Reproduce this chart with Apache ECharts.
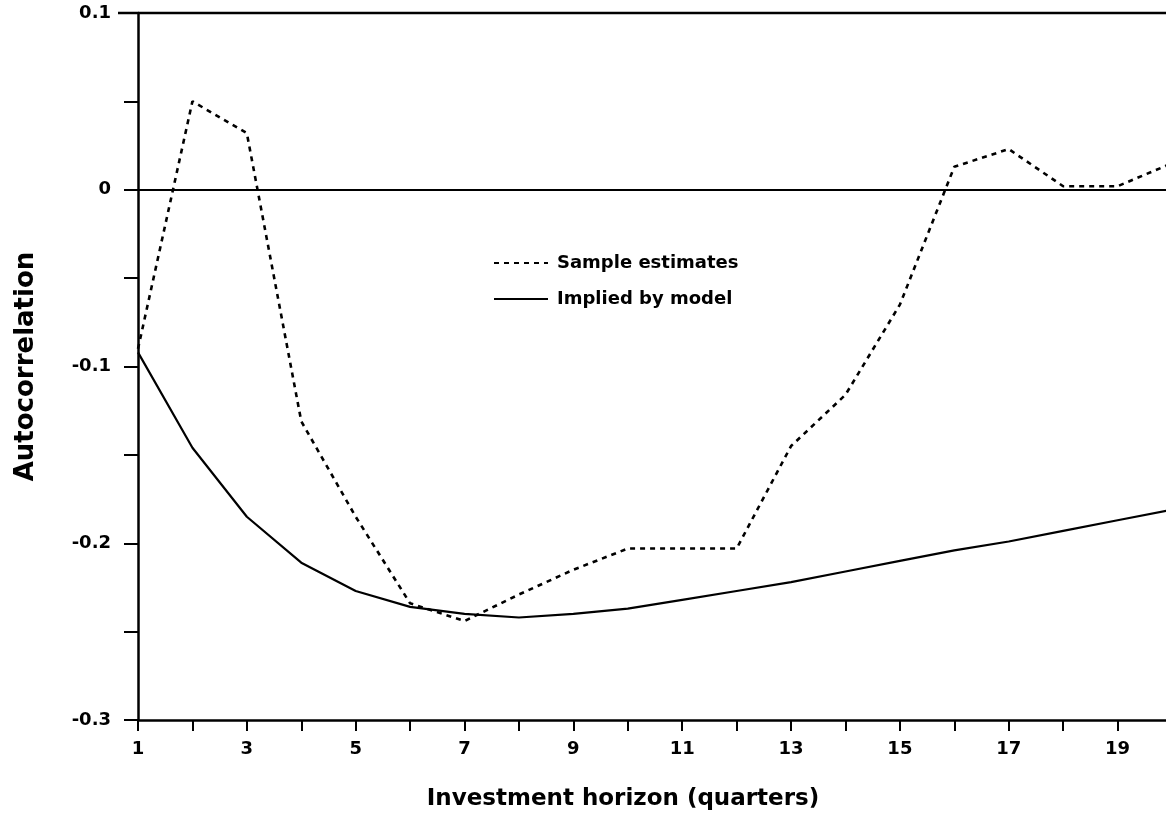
<!DOCTYPE html>
<html>
<head>
<meta charset="utf-8">
<title>Autocorrelation by investment horizon</title>
<script src="https://cdn.jsdelivr.net/npm/echarts@6/dist/echarts.min.js"></script>
<style>
  html, body { margin: 0; padding: 0; background: #ffffff; }
  #chart { width: 1166px; height: 822px; }
</style>
</head>
<body>
<div id="chart"></div>
<script>
// Investment horizon in quarters
const horizons = [1, 2, 3, 4, 5, 6, 7, 8, 9, 10, 11, 12, 13, 14, 15, 16, 17, 18, 19, 20];

// Sample autocorrelation estimates
const sampleEstimates = [-0.090, 0.050, 0.032, -0.131, -0.185, -0.234, -0.244, -0.229, -0.215, -0.203,
                         -0.203, -0.203, -0.145, -0.116, -0.065, 0.013, 0.023, 0.002, 0.002, 0.015];

// Autocorrelations implied by the model
const modelImplied = [-0.092, -0.146, -0.185, -0.211, -0.227, -0.236, -0.240, -0.242, -0.240, -0.237,
                      -0.232, -0.227, -0.222, -0.216, -0.210, -0.204, -0.199, -0.193, -0.187, -0.181];

// Axis tick labels
const xTickLabels = ['1', '3', '5', '7', '9', '11', '13', '15', '17', '19'];
const yTickLabels = ['0.1', '0', '-0.1', '-0.2', '-0.3'];

const seriesNames = ['Sample estimates', 'Implied by model'];

const FONT = 'DejaVu Sans';
const INK = '#000000';

const chart = echarts.init(document.getElementById('chart'), null, { renderer: 'canvas' });

const pairs = (ys) => horizons.map((h, i) => [h, ys[i]]);

chart.setOption({
  backgroundColor: '#ffffff',
  animation: false,
  grid: { left: 138, right: -6, top: 13, bottom: 102, show: false, outerBoundsMode: 'none', containLabel: false },
  legend: {
    orient: 'vertical',
    left: 493,
    top: 254,
    itemWidth: 54,
    itemHeight: 14,
    itemGap: 18,
    padding: 0,
    data: seriesNames,
    itemStyle: { opacity: 0 },
    textStyle: { fontFamily: FONT, fontWeight: 'bold', fontSize: 18, color: INK, padding: [0, 0, 0, 4] }
  },
  xAxis: {
    type: 'value',
    min: 1,
    max: 20,
    interval: 1,
    name: 'Investment horizon (quarters)',
    nameLocation: 'middle',
    nameGap: 68,
    nameTextStyle: { fontFamily: FONT, fontWeight: 'bold', fontSize: 23, color: INK, padding: [0, 64, 0, 0] },
    axisLine: { show: true, onZero: false, lineStyle: { color: INK, width: 2.5 } },
    axisTick: { show: true, inside: false, length: 11, lineStyle: { color: INK, width: 2 } },
    splitLine: { show: false },
    axisLabel: {
      margin: 20,
      fontFamily: FONT, fontWeight: 'bold', fontSize: 18, color: INK,
      formatter: (v) => (xTickLabels.indexOf(String(v)) >= 0 ? String(v) : '')
    }
  },
  yAxis: {
    type: 'value',
    min: -0.3,
    max: 0.1,
    interval: 0.05,
    name: 'Autocorrelation',
    nameLocation: 'middle',
    nameGap: 99,
    nameRotate: 90,
    nameTextStyle: { fontFamily: FONT, fontWeight: 'bold', fontSize: 26, color: INK, padding: [0, 0, 0, 0] },
    axisLine: { show: true, onZero: false, lineStyle: { color: INK, width: 2.5 } },
    axisTick: { show: true, inside: false, length: 14, lineStyle: { color: INK, width: 2 } },
    splitLine: { show: false },
    axisLabel: {
      margin: 27,
      fontFamily: FONT, fontWeight: 'bold', fontSize: 18, color: INK,
      formatter: (v) => {
        const k = Math.round(v * 20);
        if (k % 2 !== 0) return '';
        const s = k === 0 ? '0' : (k / 20).toFixed(1);
        return yTickLabels.indexOf(s) >= 0 ? s : '';
      }
    }
  },
  series: [
    {
      name: seriesNames[0],
      type: 'line',
      data: pairs(sampleEstimates),
      symbol: 'none',
      lineStyle: { color: INK, width: 2.6, type: [5, 5] },
      itemStyle: { color: INK },
      z: 3,
      // reference line at zero
      markLine: {
        silent: true,
        symbol: ['none', 'none'],
        label: { show: false },
        lineStyle: { color: INK, width: 1.8, type: 'solid' },
        data: [{ yAxis: 0 }]
      }
    },
    {
      name: seriesNames[1],
      type: 'line',
      data: pairs(modelImplied),
      symbol: 'none',
      lineStyle: { color: INK, width: 2.2, type: 'solid' },
      itemStyle: { color: INK },
      z: 3
    }
  ],
  graphic: [
    {
      // upper frame line at 0.1, reaching past the axis like a tick
      type: 'line',
      silent: true,
      shape: { x1: 118, y1: 13, x2: 1166, y2: 13 },
      style: { stroke: INK, lineWidth: 2.5 }
    }
  ]
});
</script>
</body>
</html>
